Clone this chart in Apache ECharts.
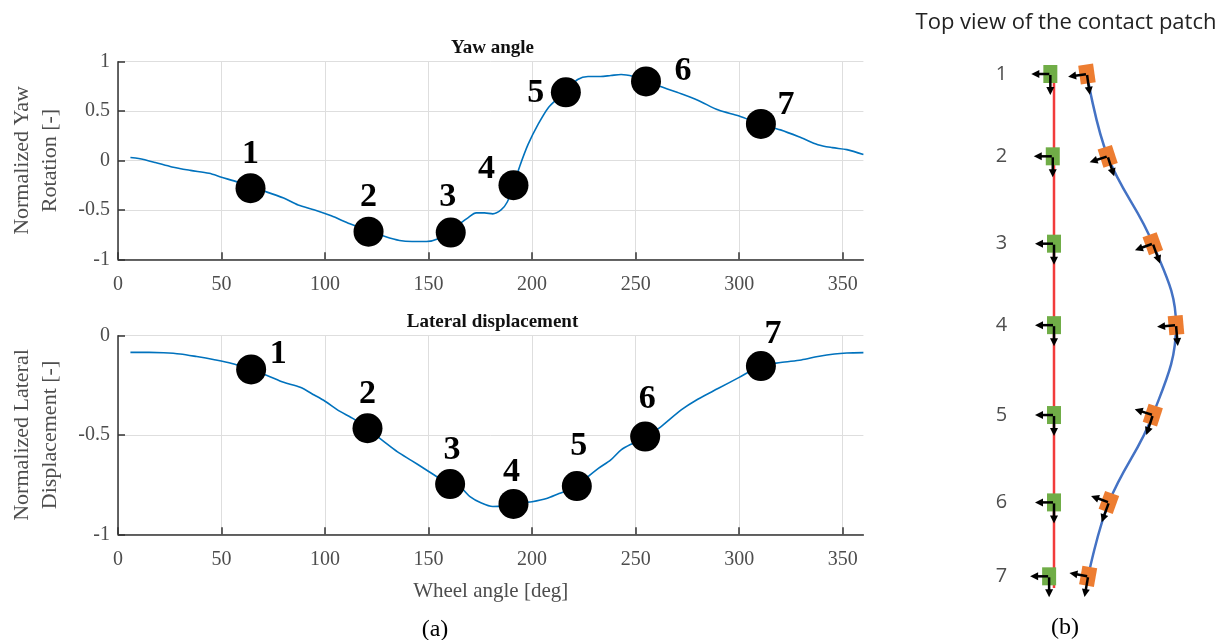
<!DOCTYPE html>
<html>
<head>
<meta charset="utf-8">
<script src="https://cdn.jsdelivr.net/npm/echarts@6/dist/echarts.min.js"></script>
<style>
  html, body { margin: 0; padding: 0; background: #fff; }
  #main { width: 1229px; height: 640px; }
</style>
</head>
<body>
<div id="main"></div>
<script>
// yaw angle curve [wheel angle, normalized yaw]
var yawCurve = [
    [6, 0.03], [10, 0.02], [18, -0.02], [26, -0.065], [35, -0.1], [44, -0.13],
    [50, -0.17], [58, -0.22], [64, -0.27], [72, -0.32], [80, -0.38], [87, -0.45],
    [95, -0.5], [103, -0.56], [112, -0.64], [121, -0.71], [129, -0.77], [136, -0.81],
    [142, -0.82], [149, -0.82], [155, -0.79], [160, -0.72], [165, -0.64], [169, -0.58],
    [173, -0.53], [177, -0.53], [181, -0.54], [185, -0.5], [188, -0.42], [191, -0.25],
    [194, -0.06], [198, 0.16], [203, 0.37], [208, 0.54], [213, 0.64], [217, 0.72],
    [222, 0.82], [227, 0.85], [233, 0.85], [238, 0.86], [243, 0.87], [249, 0.85],
    [255, 0.81], [262, 0.75], [270, 0.69], [280, 0.61], [290, 0.51], [300, 0.45],
    [310, 0.37], [320, 0.31], [330, 0.23], [338, 0.16], [345, 0.13], [352, 0.11],
    [360, 0.06]
];
var yawMarkX = [64, 121, 160.7, 191, 216.3, 255, 310.5];
var yawMarkY = [-0.28, -0.72, -0.73, -0.25, 0.69, 0.8, 0.37];

// lateral displacement curve [wheel angle, normalized displacement]
var latCurve = [
    [6, -0.084], [15, -0.084], [22, -0.086], [30, -0.092], [38, -0.105], [46, -0.12],
    [55, -0.14], [64, -0.17], [72, -0.2], [80, -0.235], [88, -0.26], [95, -0.3],
    [100, -0.33], [107, -0.38], [114, -0.42], [120, -0.466], [128, -0.53], [135, -0.585],
    [142, -0.63], [148, -0.67], [154, -0.71], [160, -0.747], [166, -0.77], [170, -0.81],
    [175, -0.84], [181, -0.86], [186, -0.857], [191, -0.847], [196, -0.84], [200, -0.836],
    [207, -0.82], [213, -0.795], [218, -0.775], [222, -0.757], [227, -0.71], [232, -0.668],
    [238, -0.625], [243, -0.575], [249, -0.54], [255, -0.508], [262, -0.46], [272, -0.374],
    [280, -0.32], [290, -0.265], [300, -0.21], [310, -0.155], [320, -0.135], [330, -0.122],
    [338, -0.105], [346, -0.092], [352, -0.087], [360, -0.085]
];
var latMarkX = [64.3, 120.5, 160.4, 191, 221.6, 254.6, 310.5];
var latMarkY = [-0.17, -0.466, -0.747, -0.847, -0.757, -0.508, -0.153];

var xTickValues = [0, 50, 100, 150, 200, 250, 300, 350];

// contact patch top view: station position, shift of the points, tilt (deg)
var stationNames = ['1', '2', '3', '4', '5', '6', '7'];
var stationPos = [1, 1.98, 3.02, 3.99, 5.06, 6.1, 6.98];
var greenShift = [-0.03, -0.01, 0, 0, 0, 0, -0.04];
var orangeShift = [0.27, 0.44, 0.81, 1.0, 0.81, 0.45, 0.28];
var orangeTilt = [8, 18, 20, 5, -18, -20, -10];

// label offsets for the numbered markers
var yawLabelOffset = [[0, -34], [0, -34], [-3, -35], [-27, -16], [-30, 1], [37, -10], [25, -19]];
var latLabelOffset = [[27, -15], [0, -34], [2, -34], [-2, -32], [2, -40], [2, -37], [12, -32]];

var serif = 'Liberation Serif';
var grey = '#4d4d4d';

var chart = echarts.init(document.getElementById('main'));

function valueX(idx, showName) {
    return {
        gridIndex: idx, type: 'value', min: 0, max: 360,
        name: showName ? 'Wheel angle [deg]' : '',
        nameLocation: 'middle', nameGap: 47,
        nameTextStyle: { fontFamily: serif, fontSize: 21, color: grey },
        axisLine: { onZero: false, lineStyle: { color: '#333', width: 1.5 } },
        axisTick: { inside: true, length: 7, customValues: xTickValues, lineStyle: { color: '#333', width: 1.5 } },
        axisLabel: { fontFamily: serif, fontSize: 20, color: grey, margin: 15, customValues: xTickValues },
        splitLine: { show: true, customValues: xTickValues, lineStyle: { color: '#dedede', width: 1 } }
    };
}
function valueY(idx, min, max, name) {
    return {
        gridIndex: idx, type: 'value', min: min, max: max, interval: 0.5,
        name: name, nameLocation: 'middle', nameRotate: 90, nameGap: 54,
        nameTextStyle: { fontFamily: serif, fontSize: 22, color: grey, lineHeight: 28 },
        axisLine: { show: true, onZero: false, lineStyle: { color: '#333', width: 1.5 } },
        axisTick: { show: true, inside: true, length: 7, lineStyle: { color: '#333', width: 1.5 } },
        axisLabel: { fontFamily: serif, fontSize: 20, color: grey, margin: 8 },
        splitLine: { show: true, lineStyle: { color: '#dedede', width: 1 } }
    };
}
function markers(xs, ys, offsets, xi) {
    return {
        type: 'scatter', xAxisIndex: xi, yAxisIndex: xi, z: 4,
        symbolSize: 30, itemStyle: { color: '#000', opacity: 1 },
        label: {
            show: true, position: 'inside', color: '#000',
            fontFamily: serif, fontWeight: 'bold', fontSize: 34,
            formatter: function (p) { return String(p.dataIndex + 1); }
        },
        data: xs.map(function (x, i) {
            return { value: [x, ys[i]], label: { offset: offsets[i] } };
        })
    };
}
function glyph(color, w, h) {
    return function (params, api) {
        var p = api.coord([api.value(0), api.value(1)]);
        return {
            type: 'group', x: p[0], y: p[1], rotation: api.value(2) * Math.PI / 180,
            children: [
                { type: 'rect', shape: { x: -w / 2, y: -h / 2, width: w, height: h }, style: { fill: color } },
                { type: 'line', shape: { x1: -1, y1: 0, x2: -12, y2: 0 }, style: { stroke: '#000', lineWidth: 2.5 } },
                { type: 'polygon', shape: { points: [[-19, 0], [-11, -4], [-11, 4]] }, style: { fill: '#000' } },
                { type: 'line', shape: { x1: 0, y1: 1, x2: 0, y2: 14 }, style: { stroke: '#000', lineWidth: 2.5 } },
                { type: 'polygon', shape: { points: [[0, 21], [-4, 13], [4, 13]] }, style: { fill: '#000' } }
            ]
        };
    };
}

var option = {
    backgroundColor: '#fff',
    animation: false,
    title: [
        { text: 'Yaw angle', left: 487.5, top: 34, textAlign: 'center',
          textStyle: { fontFamily: serif, fontWeight: 'bold', fontSize: 19, color: '#111' } },
        { text: 'Lateral displacement', left: 487.5, top: 308, textAlign: 'center',
          textStyle: { fontFamily: serif, fontWeight: 'bold', fontSize: 19, color: '#111' } },
        { text: 'Top view of the contact patch', left: 1061, top: 7, textAlign: 'center',
          textStyle: { fontFamily: 'Open Sans', fontWeight: 'normal', fontSize: 22, color: '#222' } },
        { text: '(a)', left: 430, top: 613, textAlign: 'center',
          textStyle: { fontFamily: serif, fontWeight: 'normal', fontSize: 24, color: '#000' } },
        { text: '(b)', left: 1060, top: 611, textAlign: 'center',
          textStyle: { fontFamily: serif, fontWeight: 'normal', fontSize: 24, color: '#000' } }
    ],
    grid: [
        { left: 111.7, top: 61.7, width: 751.7, height: 197.6 },
        { left: 111.7, top: 335.7, width: 751.7, height: 198.6 },
        { left: 999.1, top: 32, width: 201.3, height: 588 }
    ],
    xAxis: [
        valueX(0, false),
        valueX(1, true),
        { gridIndex: 2, type: 'value', min: -0.45, max: 1.2, show: false }
    ],
    yAxis: [
        valueY(0, -1, 1, 'Normalized Yaw\nRotation [-]'),
        valueY(1, -1, 0, 'Normalized Lateral\nDisplacement [-]'),
        { gridIndex: 2, type: 'value', min: 0.5, max: 7.5, inverse: true, show: false }
    ],
    series: [
        { type: 'line', xAxisIndex: 0, yAxisIndex: 0, data: yawCurve, showSymbol: false, smooth: 0.3,
          lineStyle: { color: '#0072BD', width: 1.6 }, z: 2 },
        markers(yawMarkX, yawMarkY, yawLabelOffset, 0),
        { type: 'line', xAxisIndex: 1, yAxisIndex: 1, data: latCurve, showSymbol: false, smooth: 0.3,
          lineStyle: { color: '#0072BD', width: 1.6 }, z: 2 },
        markers(latMarkX, latMarkY, latLabelOffset, 1),
        { type: 'line', xAxisIndex: 2, yAxisIndex: 2, showSymbol: false,
          data: stationPos.map(function (s) { return [0, s]; }).concat([[0, 7.12]]),
          lineStyle: { color: '#f23b3b', width: 2.5 }, z: 2 },
        { type: 'line', xAxisIndex: 2, yAxisIndex: 2, showSymbol: false, smooth: 0.4,
          data: stationPos.map(function (s, i) { return [orangeShift[i], s]; }),
          lineStyle: { color: '#4472C4', width: 2.5 }, z: 2 },
        { type: 'custom', xAxisIndex: 2, yAxisIndex: 2, z: 3, renderItem: glyph('#70AD47', 14, 18),
          data: stationPos.map(function (s, i) { return [greenShift[i], s, 0]; }) },
        { type: 'custom', xAxisIndex: 2, yAxisIndex: 2, z: 3, renderItem: glyph('#ED7D31', 15, 19),
          data: stationPos.map(function (s, i) { return [orangeShift[i], s, orangeTilt[i]]; }) },
        { type: 'scatter', xAxisIndex: 2, yAxisIndex: 2, symbolSize: 1,
          itemStyle: { color: 'rgba(0,0,0,0)' },
          label: { show: true, position: 'inside', fontFamily: 'Open Sans', fontSize: 20, color: '#222',
                   formatter: function (p) { return stationNames[p.dataIndex]; } },
          data: stationPos.map(function (s) { return [-0.43, s]; }) }
    ]
};

chart.setOption(option);
</script>
</body>
</html>
